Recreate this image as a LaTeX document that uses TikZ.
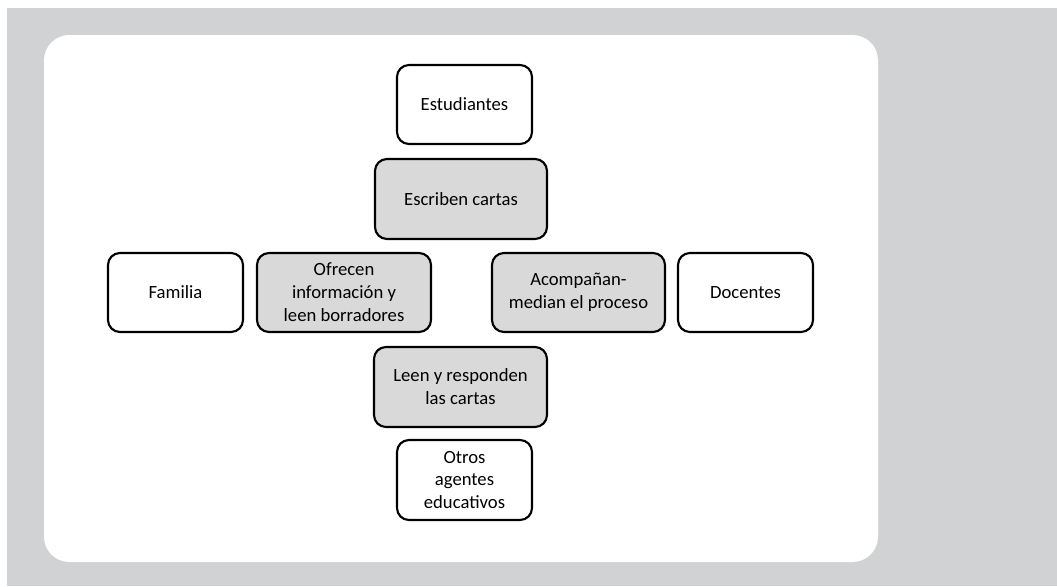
\documentclass[tikz,border=0pt]{standalone}
\usepackage{fontspec}
\setmainfont{Carlito}
\definecolor{pagegrey}{HTML}{D1D2D4}
\definecolor{actfill}{HTML}{D9D9D9}
\tikzset{
  agent/.style={draw=black, line width=1.6pt, rounded corners=9pt, fill=white,
    align=center, inner sep=0pt, font=\fontsize{14}{17.2}\selectfont},
  action/.style={agent, fill=actfill},
}
% place a box from its pixel extent: #1 left, #2 top, #3 right, #4 bottom
\newcommand{\pxbox}[7]{%
  \node[#1, minimum width={(#5-#3)*0.75pt}, minimum height={(#6-#4)*0.75pt}]
    (#2) at ({(#3+#5)/2},{(#4+#6)/2}) {#7};}
\begin{document}
\begin{tikzpicture}[x=0.75pt, y=-0.75pt]
  \useasboundingbox (0,0) rectangle (1057,586);
  \fill[white] (0,0) rectangle (1057,586);
  \fill[pagegrey] (7,8) rectangle (1057,586);
  \fill[white, rounded corners=19pt] (44,35) rectangle (878,562);

  \pxbox{agent}{est}{397}{65}{532}{144}{Estudiantes}
  \pxbox{action}{esc}{375}{159}{547}{239}{Escriben cartas}
  \pxbox{agent}{fam}{108}{253}{243}{332}{Familia}
  \pxbox{action}{ofr}{257}{253}{431}{332}{Ofrecen\\información y\\leen borradores}
  \pxbox{action}{aco}{492}{253}{665}{332}{Acompañan-\\median el proceso}
  \pxbox{agent}{doc}{678}{253}{813}{332}{Docentes}
  \pxbox{action}{lee}{374}{347}{547}{427}{Leen y responden\\las cartas}
  \pxbox{agent}{otr}{397}{440}{532}{520}{Otros\\agentes\\educativos}
\end{tikzpicture}
\end{document}
